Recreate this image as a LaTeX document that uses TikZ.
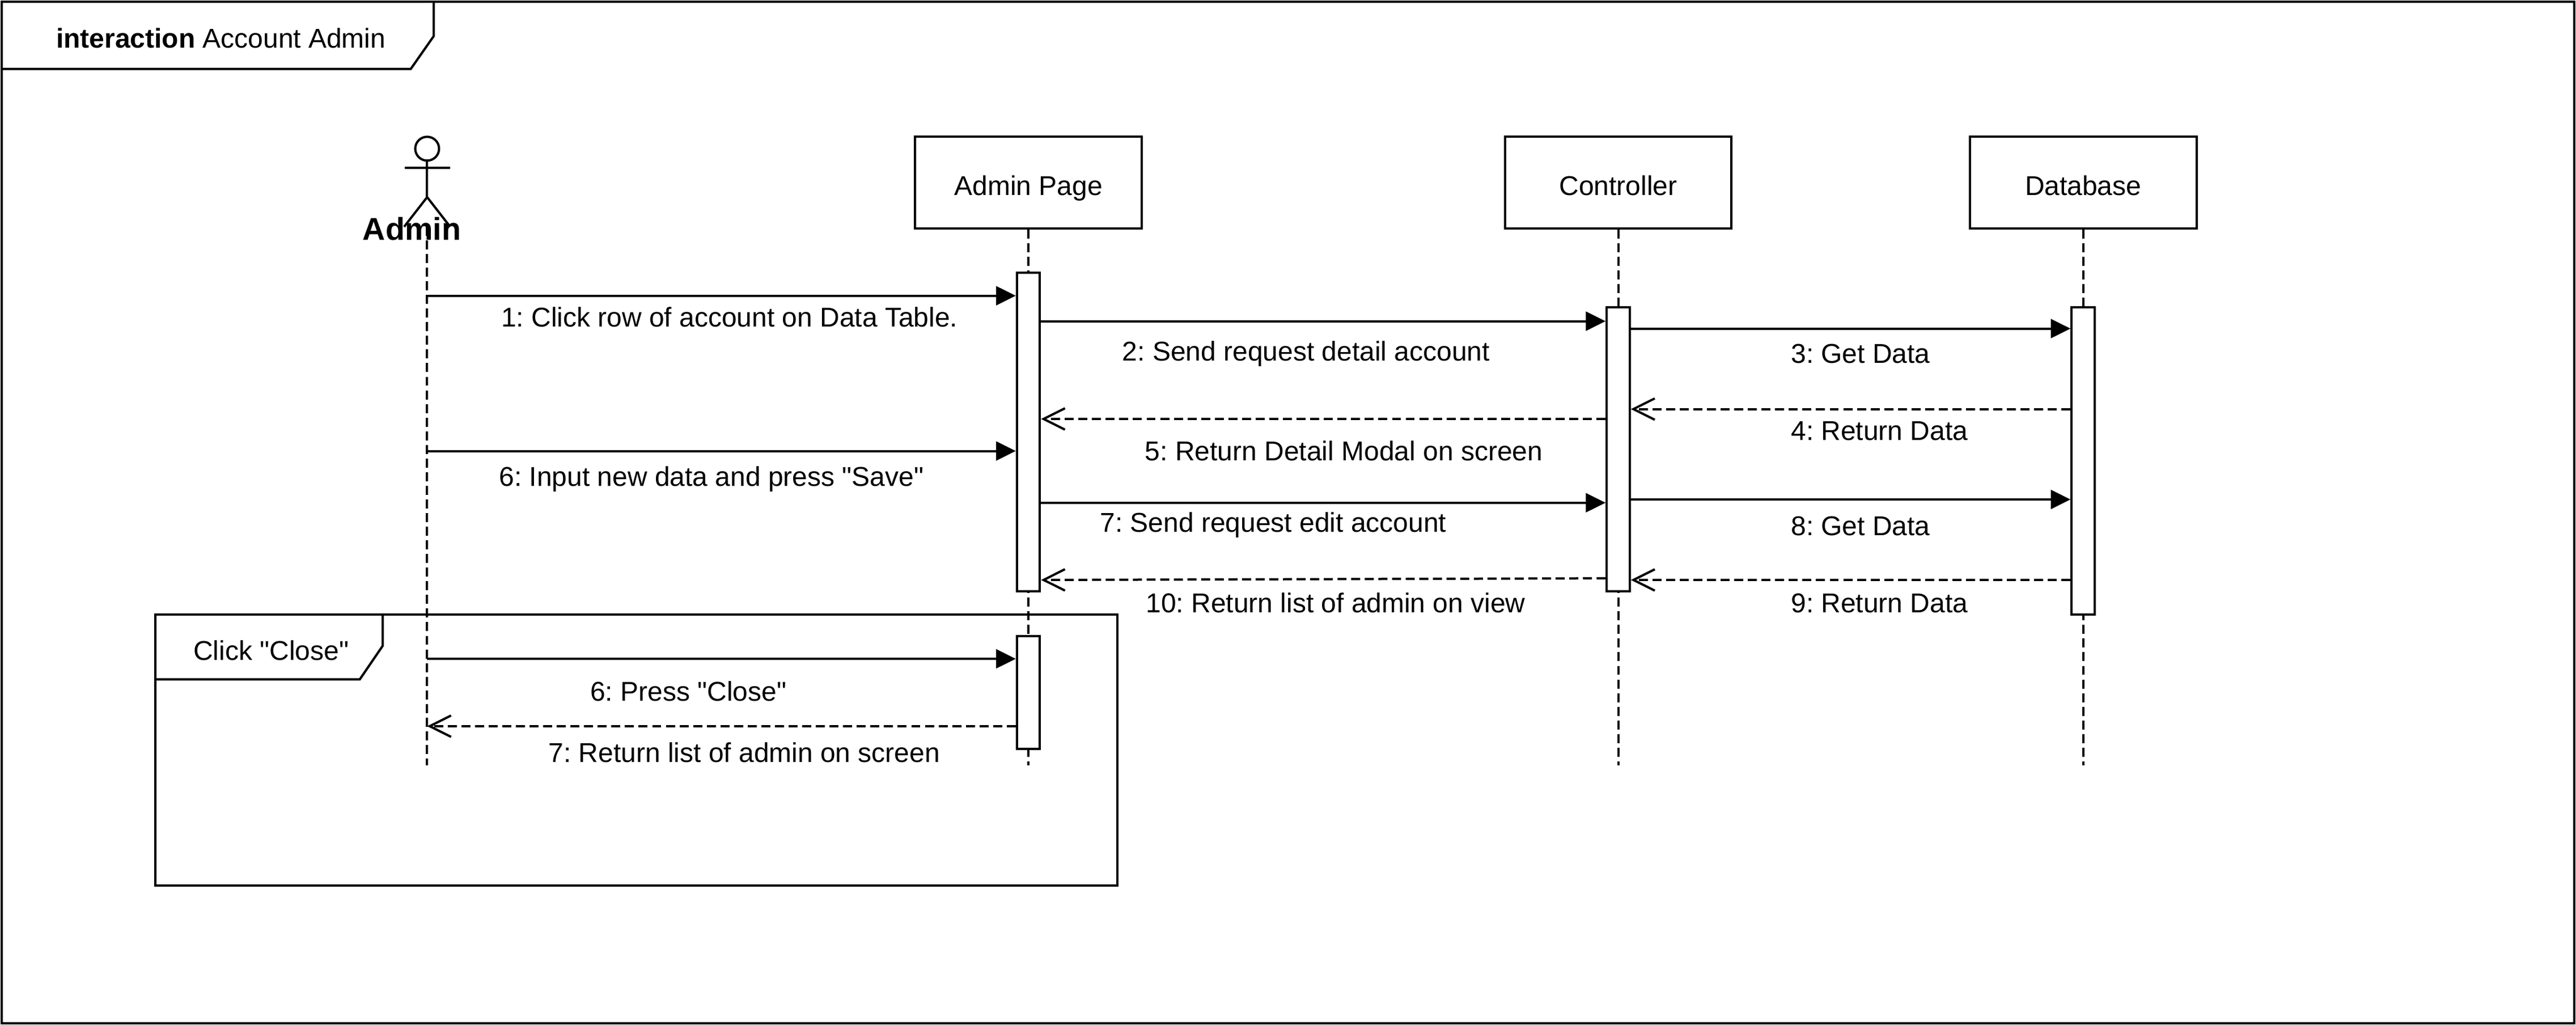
\documentclass[tikz,border=0pt]{standalone}
\usepackage{fontspec}
\newfontfamily\diagramfont{Liberation Sans}
\usetikzlibrary{arrows.meta}
\tikzset{
  objbox/.style = {draw, fill = white, minimum width = 138pt, minimum height = 56pt, inner sep = 0pt, text height = 16pt, text depth = 0pt},
  lifebar/.style = {draw, fill = white, minimum width = 14pt, inner sep = 0pt},
  lifeline/.style = {dash pattern = on 5.5pt off 2.8pt},
  callmsg/.style = {-{Triangle[length = 12pt, width = 11.5pt]}},
  backmsg/.style = {dash pattern = on 5.5pt off 2.8pt, -{Straight Barb[length = 13pt, width = 13pt]}},
  msglabel/.style = {inner sep = 0pt, text height = 12pt, text depth = 3.5pt}
}
\begin{document}
\begin{tikzpicture} [x = 1pt, y = -1pt, line width = 1.38pt, node distance = 359pt, font = \diagramfont\frenchspacing\fontsize{16.55}{20}\selectfont]

\useasboundingbox (0,0) rectangle (1568,623.87);

\draw (1,1) rectangle (1567,623);
\draw (264,1) -- (264,22) -- (250,42) -- (1,42);
\node [msglabel] (maintitle) at (134.5,24.75) {\textbf{interaction} Account Admin};

\node [circle, draw, inner sep = 0pt, minimum size = 14.5pt] (adminhead) at (260,90.5) {};
\coordinate (adminhip) at (260,120);
\coordinate (adminfoot) at (260,138);
\coordinate (adminleft) at (246,138);
\coordinate (adminright) at (274,138);
\coordinate (adminend) at (260,466);
\path (adminhead) edge (adminhip);
\draw (246.5,102) -- (274,102);
\path (adminhip) edge (adminleft);
\path (adminhip) edge (adminright);
\path (adminfoot) edge [lifeline] (adminend);
\node [msglabel] (admin) at (250.7,142) {\fontsize{19.2}{23}\selectfont\textbf{Admin}};

\node [objbox] (page) at (626,111) {Admin Page};
\node [objbox] (controller) [right of = page] {Controller};
\node [objbox] (database) [right of = controller, node distance = 283pt] {Database};

\coordinate (pageend) at (626,466);
\coordinate (controllerend) at (985,466);
\coordinate (databaseend) at (1268,466);

\path (page) edge [lifeline] (pageend);
\path (controller) edge [lifeline] (controllerend);
\path (database) edge [lifeline] (databaseend);

\node [lifebar, minimum height = 194pt] (pagebar) at (626,263) {};
\node [lifebar, minimum height = 69pt] (closebar) at (626,421.5) {};
\node [lifebar, minimum height = 173pt] (controllerbar) at (985,273.5) {};
\node [lifebar, minimum height = 187pt] (databasebar) at (1268,280.5) {};

\path (adminend |- 0,180) edge [callmsg] (pagebar.west |- 0,180);
\path (pagebar.east |- 0,195.5) edge [callmsg] (controllerbar.west |- 0,195.5);
\path (controllerbar.east |- 0,200) edge [callmsg] (databasebar.west |- 0,200);
\path (databasebar.west |- 0,249) edge [backmsg] (controllerbar.east |- 0,249);
\path (controllerbar.west |- 0,255) edge [backmsg] (pagebar.east |- 0,255);
\path (adminend |- 0,274.5) edge [callmsg] (pagebar.west |- 0,274.5);
\path (pagebar.east |- 0,306) edge [callmsg] (controllerbar.west |- 0,306);
\path (controllerbar.east |- 0,304) edge [callmsg] (databasebar.west |- 0,304);
\path (databasebar.west |- 0,353) edge [backmsg] (controllerbar.east |- 0,353);
\path (controllerbar.west |- 0,352) edge [backmsg] (pagebar.east |- 0,353);
\path (adminend |- 0,401) edge [callmsg] (closebar.west |- 0,401);
\path (closebar.west |- 0,442) edge [backmsg] (adminend |- 0,442);

\node [msglabel] (m1) at (444,194.75) {1: Click row of account on Data Table.};
\node [msglabel] (m2) at (795,215.3) {2: Send request detail account};
\node [msglabel] (m3) at (1132.5,216.75) {3: Get Data};
\node [msglabel] (m4) at (1144,263.75) {4: Return Data};
\node [msglabel] (m5) at (818,276.25) {5: Return Detail Modal on screen};
\node [msglabel] (m6) at (433,291.7) {6: Input new data and press "Save"};
\node [msglabel] (m7) at (775,319.7) {7: Send request edit account};
\node [msglabel] (m8) at (1132.5,321.5) {8: Get Data};
\node [msglabel] (m9) at (1144,368.75) {9: Return Data};
\node [msglabel] (m10) at (813,368.75) {10: Return list of admin on view};
\node [msglabel] (m11) at (419,422.5) {6: Press "Close"};
\node [msglabel] (m12) at (453,459.75) {7: Return list of admin on screen};

\draw (94.5,374) rectangle (680,539);
\draw (233,374) -- (233,393) -- (219,413.5) -- (94.5,413.5);
\node [msglabel] (closetitle) at (165,397.75) {Click "Close"};

\end{tikzpicture}
\end{document}
